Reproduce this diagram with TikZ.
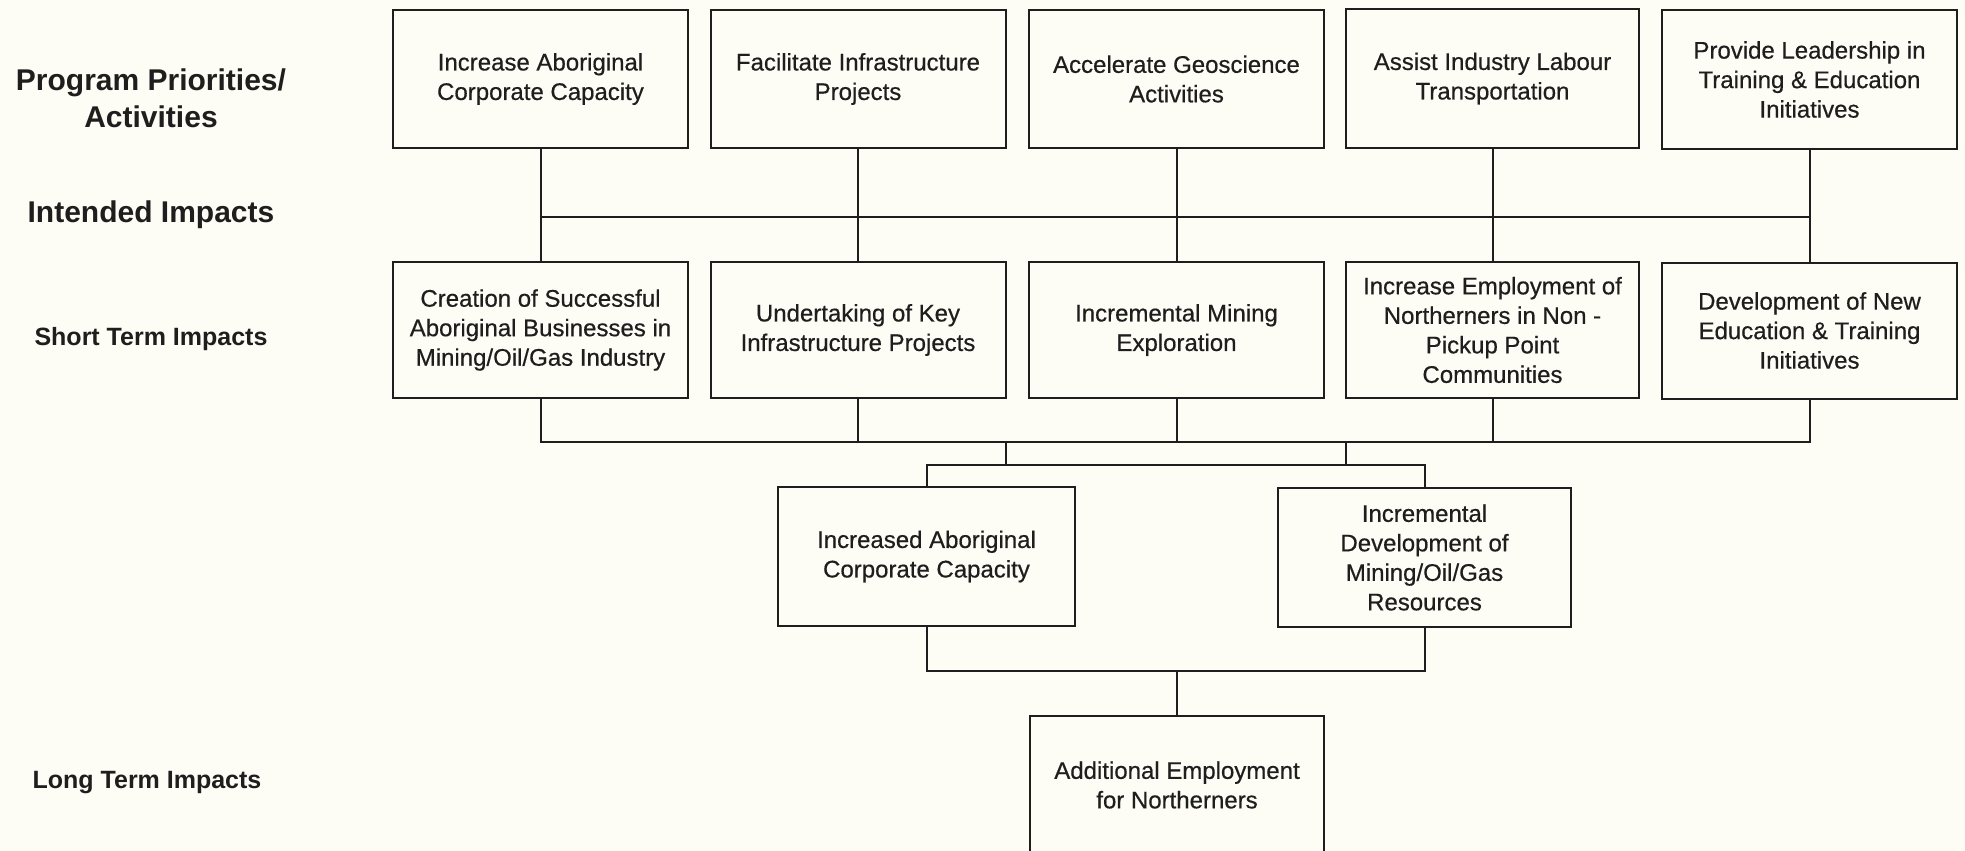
\documentclass[tikz,border=0pt]{standalone}
\usepackage{fontspec}
\setmainfont{Liberation Sans}
\newfontfamily\boxfont[FakeBold=0.5]{Liberation Sans}
\definecolor{bgc}{RGB}{253,253,245}
\definecolor{ink}{RGB}{30,30,30}
\begin{document}
\begin{tikzpicture}[x=1pt,y=-1pt,
  boxnode/.style={draw=ink,line width=2pt,align=center,inner sep=0pt,
    minimum width=295pt,minimum height=138pt,text=ink,
    font=\boxfont\fontsize{24}{29.5}\selectfont},
  sidelabel/.style={align=center,text=ink,inner sep=0pt},
  bigside/.style={sidelabel,font=\fontsize{30}{37}\selectfont\bfseries},
  smallside/.style={sidelabel,font=\fontsize{25}{30}\selectfont\bfseries},
  link/.style={draw=ink,line width=2pt}]
\fill[bgc] (0,0) rectangle (1965,851);
\useasboundingbox (0,0) rectangle (1965,851);

% side labels
\node[bigside] (lp) at (151,98) {Program Priorities/\\Activities};
\node[bigside,anchor=base] (li) at (151,222) {Intended Impacts};
\node[smallside,anchor=base] (ls) at (151,345) {Short Term Impacts};
\node[smallside,anchor=base] (ll) at (147,788) {Long Term Impacts};

% top row
\node[boxnode] (t1) at (540.5,79) {Increase Aboriginal\\Corporate Capacity};
\node[boxnode] (t2) at (858,79) {Facilitate Infrastructure\\Projects};
\node[boxnode] (t3) at (1176.5,79) {Accelerate Geoscience\\Activities};
\node[boxnode,minimum width=293pt] (t4) at (1492.5,78.5) {Assist Industry Labour\\Transportation};
\node[boxnode] (t5) at (1809.5,79.5) {Provide Leadership in\\Training \& Education\\Initiatives};

% second row
\node[boxnode,minimum height=136pt] (s1) at (540.5,330) {Creation of Successful\\Aboriginal Businesses in\\Mining/Oil/Gas Industry};
\node[boxnode,minimum height=136pt] (s2) at (858,330) {Undertaking of Key\\Infrastructure Projects};
\node[boxnode,minimum height=136pt] (s3) at (1176.5,330) {Incremental Mining\\Exploration};
\node[boxnode,minimum height=136pt,minimum width=293pt] (s4) at (1492.5,330) {Increase Employment of\\Northerners in Non -\\Pickup Point\\Communities};
\node[boxnode,minimum height=136pt] (s5) at (1809.5,330.5) {Development of New\\Education \& Training\\Initiatives};

% lower row
\node[boxnode,minimum width=297pt,minimum height=139pt] (l1) at (926.5,556.5) {Increased Aboriginal\\Corporate Capacity};
\node[boxnode,minimum width=293pt,minimum height=139pt] (l2) at (1424.5,557.5) {Incremental\\Development of\\Mining/Oil/Gas\\Resources};

% final
\node[boxnode,minimum width=294pt,minimum height=138pt] (f) at (1177,785) {Additional Employment\\for Northerners};

% connectors: top to second row
\foreach \i in {1,...,5} {\draw[link] (t\i.south) -- (s\i.north);}
\draw[link] (t1.south |- 0,217) -- (t5.south |- 0,217);

% second row to bus
\foreach \i in {2,3,4} {\draw[link] (s\i.south) -- (s\i.south |- 0,442);}
\draw[link] (s1.south) -- (s1.south |- 0,442) -- (s5.south |- 0,442) -- (s5.south);

% drops
\coordinate (d1) at (1006,442);
\coordinate (d2) at (1346,442);
\draw[link] (d1) -- (d1 |- 0,465);
\draw[link] (d2) -- (d2 |- 0,465);

% bus to lower row
\draw[link] (l1.north) -- (l1.north |- 0,465) -- (l2.north |- 0,465) -- (l2.north);
\draw[link] (l1.south) -- (l1.south |- 0,671) -- (l2.south |- 0,671) -- (l2.south);
\draw[link] (f.north) -- (f.north |- 0,671);
\end{tikzpicture}
\end{document}
